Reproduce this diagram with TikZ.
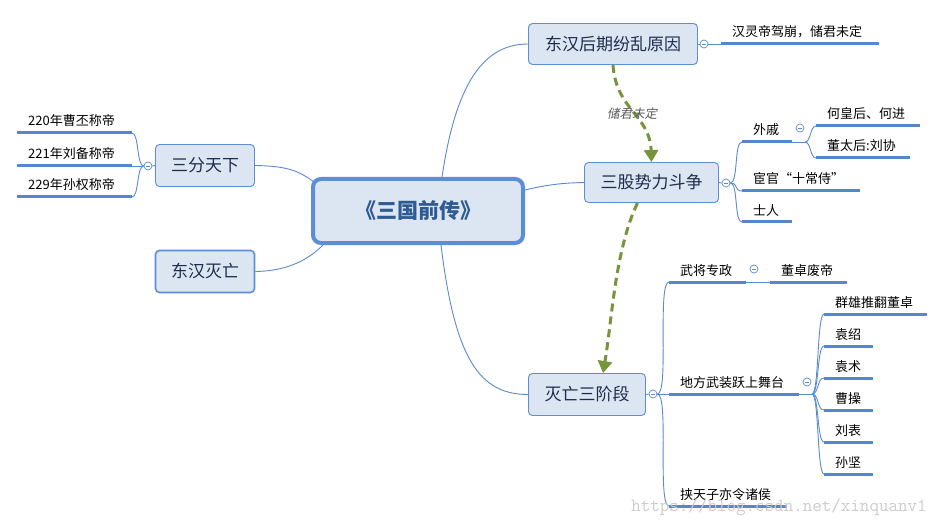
\documentclass[tikz,border=0pt]{standalone}
\usepackage{fontspec}
\setmainfont{Noto Sans CJK SC}
\newfontfamily\cjkit[FakeSlant=0.2]{Noto Sans CJK SC}
\usetikzlibrary{arrows.meta}
\definecolor{boxfill}{HTML}{DCE6F2}
\definecolor{boxline}{HTML}{5B8ED6}
\definecolor{linecol}{HTML}{5A8AD0}
\definecolor{ulcol}{HTML}{5587CF}
\definecolor{relcol}{HTML}{77933C}
\definecolor{boxtext}{HTML}{1F2D4D}
\definecolor{maintext}{HTML}{2E5B93}
\definecolor{wmcol}{HTML}{CCCCCC}
\newcommand\mmleaf[5]{%
  \coordinate (#1-a) at (#2,#4);
  \coordinate (#1-b) at (#3,#4);
  \draw[uline] (#1-a) -- (#1-b);
  \node[leaftext] (#1) at (#2+11,#4-7) {#5};
}
\newcommand\mmcollapse[3]{%
  \node[collapse] (#1) at (#2,#3) {};
  \draw[linecol, line width=0.7pt] ([xshift=-2pt]#1.center) -- ([xshift=2pt]#1.center);
}
\begin{document}
\begin{tikzpicture}[x=1pt,y=-1pt,
  topic/.style={draw=boxline, fill=boxfill, rounded corners=4pt, line width=0.9pt,
    text=boxtext, font=\fontsize{17}{20}\selectfont, inner sep=0pt},
  central/.style={draw=boxline, fill=boxfill, rounded corners=8pt, line width=4pt,
    text=maintext, font=\fontsize{21}{24}\selectfont\bfseries, inner sep=0pt,
    minimum width=210pt, minimum height=64pt},
  leaftext/.style={anchor=base west, inner sep=0pt, text=black,
    font=\fontsize{13}{15}\selectfont},
  uline/.style={draw=ulcol, line width=3pt},
  branch/.style={draw=linecol, line width=0.9pt},
  collapse/.style={circle, draw=linecol, fill=white, line width=0.7pt,
    minimum size=8pt, inner sep=0pt},
  relation/.style={draw=relcol, line width=3pt, dash pattern=on 8pt off 5pt,
    -{Triangle[length=12pt,width=14pt]}},
  rellabel/.style={text=black!65, font=\fontsize{12.5}{14}\selectfont\cjkit, inner sep=1pt},
  watermark/.style={text=wmcol, font=\fontsize{18.5}{20}\selectfont\ttfamily, inner sep=0pt}
]
\useasboundingbox (0,0) rectangle (946,524);
\fill[white] (0,0) rectangle (946,524);

% central and main topics
\node[central] (C) at (418,211) {《三国前传》};
\node[topic, minimum width=169pt, minimum height=41pt] (D1) at (613,44) {东汉后期纷乱原因};
\node[topic, minimum width=134pt, minimum height=40pt] (S3) at (651.5,182.5) {三股势力斗争};
\node[topic, minimum width=117pt, minimum height=42pt] (M3) at (587,394.5) {灭亡三阶段};
\node[topic, minimum width=99pt, minimum height=42pt] (SF) at (205,165.5) {三分天下};
\node[topic, minimum width=99pt, minimum height=42pt, line width=1.6pt] (DM) at (205,271.5) {东汉灭亡};

% connectors from the central topic
\draw[branch] ([xshift=24pt]C.north) .. controls (455,90) and (480,44) .. (D1.west);
\draw[branch] ([yshift=21pt]C.east) .. controls (550,184) and (565,183) .. (S3.west);
\draw[branch] ([xshift=23pt]C.south) .. controls (455,360) and (480,394.5) .. (M3.west);
\draw[branch] ([xshift=3pt,yshift=-5pt]C.north west) .. controls (300,172) and (290,166) .. (SF.east);
\draw[branch] ([xshift=12pt]C.south west) .. controls (310,258) and (290,271) .. (DM.east);

% collapse markers
\mmcollapse{cD1}{704}{44}
\mmcollapse{cS3}{726}{183}
\mmcollapse{cM3}{653}{394}
\mmcollapse{cSF}{148}{166}
\mmcollapse{cWQ}{800}{128}
\mmcollapse{cWJ}{754}{269}
\mmcollapse{cDF}{807}{382}

\draw[branch] (D1.east) -- (cD1.west);
\draw[branch] (S3.east) -- (cS3.west);
\draw[branch] (M3.east) -- (cM3.west);
\draw[branch] (SF.west) -- (cSF.east);

% leaves
\mmleaf{lingdi}{721}{879}{44}{汉灵帝驾崩，储君未定}
\mmleaf{waiqi}{742}{792}{142}{外戚}
\mmleaf{hehou}{816}{920}{126}{何皇后、何进}
\mmleaf{dongtai}{816}{910}{158}{董太后:刘协}
\mmleaf{huanguan}{742}{860}{191}{宦官“十常侍”}
\mmleaf{shiren}{742}{792}{222}{士人}
\mmleaf{wujiang}{669}{746}{282}{武将专政}
\mmleaf{dongzhuo}{770}{847}{282}{董卓废帝}
\mmleaf{difang}{669}{799}{394}{地方武装跃上舞台}
\mmleaf{qunxiong}{824}{927}{314}{群雄推翻董卓}
\mmleaf{yuanshao}{824}{873}{346}{袁绍}
\mmleaf{yuanshu}{824}{873}{378}{袁术}
\mmleaf{caocao}{824}{873}{410}{曹操}
\mmleaf{liubiao}{824}{873}{442}{刘表}
\mmleaf{sunjian}{824}{873}{474}{孙坚}
\mmleaf{xietianzi}{669}{787}{506}{挟天子亦令诸侯}
\mmleaf{caopi}{17}{132}{133}{220年曹丕称帝}
\mmleaf{liubei}{17}{132}{166}{221年刘备称帝}
\mmleaf{sunquan}{17}{132}{197}{229年孙权称帝}

\coordinate (wqj) at (805,142);
\coordinate (dfj) at (812,394);

% branches
\draw[branch] (cD1.east) -- (lingdi-a);
\draw[branch] (cS3.east) .. controls +(8,0) and +(-8,0) .. (waiqi-a);
\draw[branch] (cS3.east) .. controls +(8,0) and +(-8,0) .. (huanguan-a);
\draw[branch] (cS3.east) .. controls +(8,0) and +(-8,0) .. (shiren-a);
\draw[branch] (waiqi-b) -- (wqj);
\draw[branch] (wqj) .. controls +(6,0) and +(-6,0) .. (hehou-a);
\draw[branch] (wqj) .. controls +(6,0) and +(-6,0) .. (dongtai-a);
\draw[branch] (cM3.east) .. controls +(12,0) and +(-12,0) .. (wujiang-a);
\draw[branch] (cM3.east) -- (difang-a);
\draw[branch] (cM3.east) .. controls +(12,0) and +(-12,0) .. (xietianzi-a);
\draw[branch] (wujiang-b) -- (dongzhuo-a);
\draw[branch] (difang-b) -- (dfj);
\foreach \n in {qunxiong,yuanshao,yuanshu,caocao,liubiao,sunjian}
  \draw[branch] (dfj) .. controls +(7,0) and +(-7,0) .. (\n-a);
\draw[branch] (cSF.west) .. controls +(-7,0) and +(7,0) .. (caopi-b);
\draw[branch] (cSF.west) -- (liubei-b);
\draw[branch] (cSF.west) .. controls +(-7,0) and +(7,0) .. (sunquan-b);

% relationships
\draw[relation] (D1.south) .. controls (616,110) and (650,115) .. (S3.north);
\node[rellabel] (rl) at (632,114) {储君未定};
\draw[relation] ([xshift=-14pt]S3.south) .. controls (615,250) and (612,320) .. ([xshift=16pt]M3.north);

% watermark
\node[watermark] (wm) at (779,507) {https://blog.csdn.net/xinquanv1};
\end{tikzpicture}
\end{document}
